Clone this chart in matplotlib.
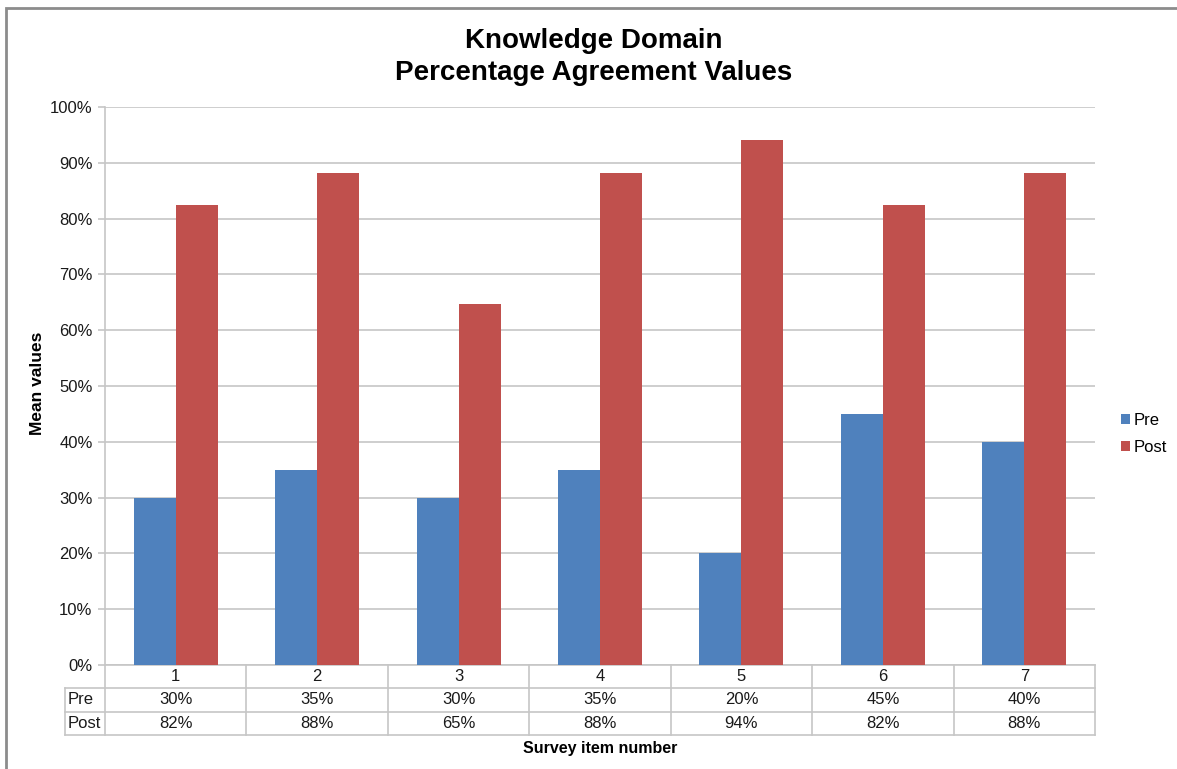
import matplotlib
matplotlib.use("Agg")
import matplotlib.pyplot as plt
from matplotlib.patches import Rectangle
from matplotlib.lines import Line2D

plt.rcParams['font.family'] = ['Liberation Sans', 'DejaVu Sans']

categories = ['1', '2', '3', '4', '5', '6', '7']
pre = [30, 35, 30, 35, 20, 45, 40]
post = [82.4, 88.2, 64.7, 88.2, 94.1, 82.4, 88.2]
pre_labels = ['30%', '35%', '30%', '35%', '20%', '45%', '40%']
post_labels = ['82%', '88%', '65%', '88%', '94%', '82%', '88%']
series_names = ['Pre', 'Post']
yticks = [0, 10, 20, 30, 40, 50, 60, 70, 80, 90, 100]

W, H = 1177, 769
fig = plt.figure(figsize=(W / 100, H / 100), dpi=100)

# outer chart border
fig.patches.append(Rectangle((6 / W, -0.05), 1.2, 1 - 8 / H + 0.05, transform=fig.transFigure,
                             fill=False, edgecolor='#8c8c8c', linewidth=2))

L, R, T, B = 105, 1095, 107, 665
ax = fig.add_axes([L / W, 1 - B / H, (R - L) / W, (B - T) / H])

blue = '#4F81BD'
red = '#C0504D'
grid_c = '#C6C6C6'
txt_c = '#1a1a1a'
fs = 12
n = len(categories)
x = list(range(n))
w = 0.297

ax.bar([i - w / 2 for i in x], pre, width=w, color=blue, label=series_names[0], zorder=3)
ax.bar([i + w / 2 for i in x], post, width=w, color=red, label=series_names[1], zorder=3)

ax.set_xlim(-0.5, n - 0.5)
ax.set_ylim(0, 100)
ax.set_yticks(yticks)
ax.set_yticklabels([f'{v}%' for v in yticks], fontsize=fs, color=txt_c)
ax.set_xticks([])
ax.yaxis.grid(True, color=grid_c, linewidth=1.2, zorder=0)
for s in ['top', 'right']:
    ax.spines[s].set_visible(False)
ax.spines['left'].set_color(grid_c)
ax.spines['bottom'].set_color(grid_c)
ax.spines['left'].set_linewidth(1.2)
ax.spines['bottom'].set_linewidth(1.2)
ax.tick_params(axis='y', length=5, color=grid_c, width=1.2, pad=4)

# data table below the axis
rowh = 23.3 / (B - T)
tr = ax.get_xaxis_transform()
lc = '#C6C6C6'
hdr_left = -0.5 - (L - 65) / ((R - L) / n)

def hline(y0, xa, xb):
    ax.add_line(Line2D([xa, xb], [y0, y0], transform=tr, color=lc, linewidth=1.2, clip_on=False))

def vline(xv, ya, yb):
    ax.add_line(Line2D([xv, xv], [ya, yb], transform=tr, color=lc, linewidth=1.2, clip_on=False))

for k in range(1, 4):
    hline(-k * rowh, hdr_left, n - 0.5)
for b in range(n + 1):
    vline(b - 0.5, 0, -3 * rowh)
vline(hdr_left, -rowh, -3 * rowh)

for i in range(n):
    ax.text(i, -0.5 * rowh, categories[i], transform=tr, ha='center', va='center', fontsize=fs, color=txt_c)
    ax.text(i, -1.5 * rowh, pre_labels[i], transform=tr, ha='center', va='center', fontsize=fs, color=txt_c)
    ax.text(i, -2.5 * rowh, post_labels[i], transform=tr, ha='center', va='center', fontsize=fs, color=txt_c)
ax.text(hdr_left + 0.02, -1.5 * rowh, series_names[0], transform=tr, ha='left', va='center', fontsize=fs, color=txt_c)
ax.text(hdr_left + 0.02, -2.5 * rowh, series_names[1], transform=tr, ha='left', va='center', fontsize=fs, color=txt_c)

# titles and labels
fig.text(594 / W, 1 - 41 / H, 'Knowledge Domain', ha='center', va='center', fontsize=20, fontweight='bold')
fig.text(594 / W, 1 - 73 / H, 'Percentage Agreement Values', ha='center', va='center', fontsize=20, fontweight='bold')
fig.text(37 / W, 1 - 383 / H, 'Mean values', ha='center', va='center', rotation=90, fontsize=12.5, fontweight='bold')
fig.text(600 / W, 1 - 748 / H, 'Survey item number', ha='center', va='center', fontsize=11.5, fontweight='bold')

leg = fig.legend(loc='center left', bbox_to_anchor=(1106 / W, 1 - 434 / H), frameon=False,
                 fontsize=fs, handlelength=0.55, handleheight=0.55, handletextpad=0.2, labelspacing=0.75)

fig.savefig('out.png', dpi=100)
